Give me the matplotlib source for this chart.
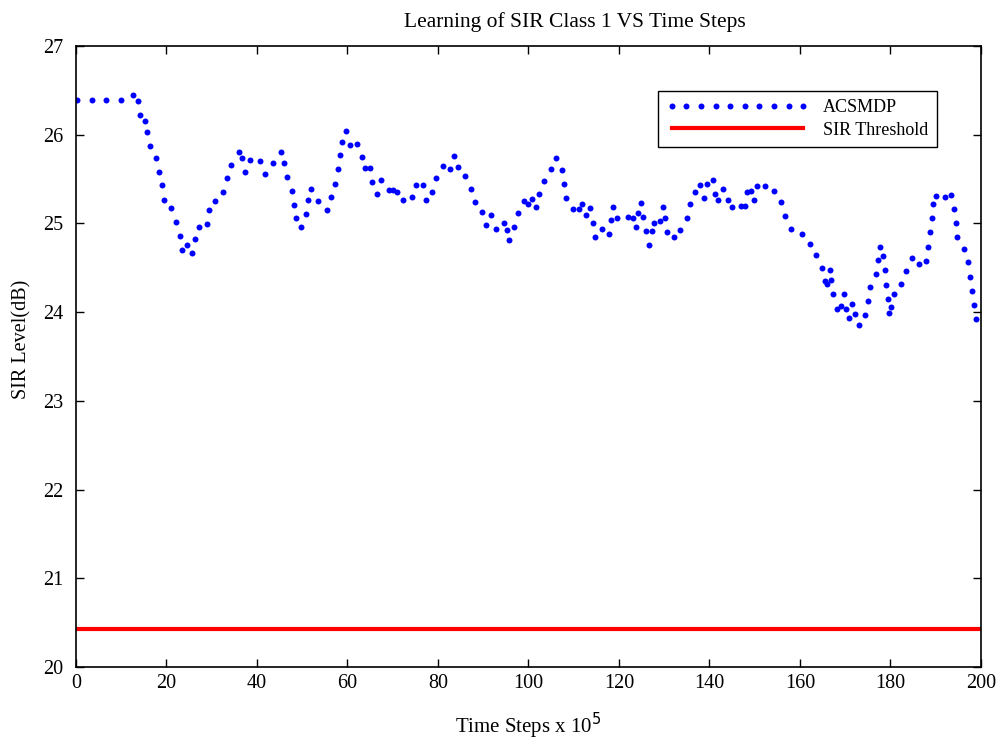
import matplotlib.pyplot as plt

plt.rcParams['font.family'] = ['Liberation Serif', 'DejaVu Serif']

# ACSMDP dots
steps = [0.3, 3.5, 6.7, 9.9, 12.5, 13.8, 14.1, 15.2, 15.8, 16.3, 17.6, 18.3, 19.0, 19.5,
         21.1, 22.2, 22.9, 23.5, 24.6, 25.7, 26.2, 27.1, 28.9, 29.3, 30.7, 32.5, 33.3,
         34.3, 36.0, 36.8, 37.4, 38.5, 40.6, 41.8, 43.5, 45.4, 46.0, 46.6, 47.7, 48.1,
         48.6, 49.8, 50.8, 51.2, 51.9, 53.5, 55.5, 56.4, 57.2, 57.8, 58.3, 58.9, 59.7,
         60.6, 62.2, 63.2, 63.8, 65.0, 65.4, 66.5, 67.5, 69.1, 70.1, 71.0, 72.2, 74.3,
         75.1, 76.6, 77.4, 78.6, 79.5, 81.2, 82.7, 83.5, 84.4, 86.0, 87.3, 88.2, 89.7,
         90.7, 91.8, 92.9, 94.5, 95.2, 95.8, 96.9, 97.6, 98.9, 100.0, 100.8, 101.7,
         102.3, 103.5, 105.0, 106.1, 107.3, 107.8, 108.4, 109.8, 111.1, 111.9, 112.7,
         113.7, 114.2, 114.6, 116.3, 117.7, 118.2, 118.6, 119.6, 121.9, 123.2, 123.8,
         124.3, 124.9, 125.4, 125.9, 126.7, 127.4, 127.7, 129.1, 129.7, 130.2, 130.6,
         132.2, 133.5, 135.0, 135.6, 136.9, 137.8, 138.7, 139.4, 140.8, 141.3, 141.9,
         143.0, 144.2, 145.0, 147.0, 147.9, 148.4, 149.2, 149.8, 150.6, 152.3, 154.2,
         155.8, 156.6, 158.0, 160.5, 162.2, 163.5, 164.9, 165.5, 166.0, 166.6, 166.9,
         167.4, 168.1, 169.0, 169.7, 170.2, 170.8, 171.6, 172.2, 173.1, 174.3, 175.0,
         175.5, 176.7, 177.2, 177.7, 178.3, 178.8, 179.1, 179.4, 179.7, 180.2, 180.8,
         182.3, 183.4, 184.7, 186.4, 187.9, 188.3, 188.7, 189.1, 189.5, 190.1, 192.0,
         193.3, 194.0, 194.4, 194.8, 196.2, 197.1, 197.6, 198.0, 198.4, 198.8]
sir = [26.39, 26.39, 26.39, 26.39, 26.45, 26.38, 26.22, 26.15, 26.03, 25.87, 25.74, 25.58,
       25.43, 25.27, 25.17, 25.02, 24.86, 24.70, 24.76, 24.67, 24.83, 24.96, 24.99, 25.15,
       25.25, 25.36, 25.51, 25.66, 25.80, 25.74, 25.58, 25.71, 25.70, 25.56, 25.68, 25.80,
       25.68, 25.52, 25.37, 25.21, 25.06, 24.96, 25.11, 25.27, 25.39, 25.25, 25.15, 25.30,
       25.45, 25.61, 25.77, 25.92, 26.04, 25.89, 25.90, 25.75, 25.63, 25.63, 25.47, 25.33,
       25.49, 25.38, 25.38, 25.36, 25.27, 25.30, 25.43, 25.43, 25.27, 25.36, 25.51, 25.65,
       25.61, 25.76, 25.64, 25.54, 25.39, 25.24, 25.13, 24.98, 25.09, 24.94, 25.01, 24.93,
       24.81, 24.96, 25.12, 25.25, 25.22, 25.28, 25.18, 25.33, 25.48, 25.61, 25.74, 25.60,
       25.45, 25.29, 25.16, 25.16, 25.22, 25.09, 25.17, 25.01, 24.85, 24.94, 24.88, 25.04,
       25.19, 25.06, 25.07, 25.06, 24.96, 25.12, 25.23, 25.07, 24.91, 24.76, 24.91, 25.00,
       25.03, 25.19, 25.06, 24.90, 24.85, 24.93, 25.06, 25.22, 25.36, 25.43, 25.29, 25.45,
       25.49, 25.33, 25.26, 25.39, 25.27, 25.18, 25.20, 25.20, 25.36, 25.37, 25.26, 25.42,
       25.42, 25.37, 25.24, 25.08, 24.94, 24.88, 24.77, 24.64, 24.50, 24.35, 24.32, 24.48,
       24.36, 24.20, 24.04, 24.07, 24.20, 24.04, 23.93, 24.09, 23.98, 23.85, 23.97, 24.13,
       24.28, 24.43, 24.59, 24.74, 24.63, 24.47, 24.31, 24.15, 23.99, 24.06, 24.21, 24.32,
       24.46, 24.61, 24.54, 24.58, 24.74, 24.90, 25.06, 25.22, 25.31, 25.30, 25.32, 25.16,
       25.01, 24.85, 24.71, 24.56, 24.40, 24.24, 24.08, 23.92]

threshold_x = [0, 200]
threshold_y = [20.43, 20.43]

fig = plt.figure(figsize=(10.01, 7.4), dpi=100)
ax = fig.add_axes([0.0759, 0.0986, 0.9041, 0.8392])

ax.plot(steps, sir, linestyle='none', marker='o', markersize=4.3, color='#0000ff',
        markeredgewidth=0, label='ACSMDP')
ax.plot(threshold_x, threshold_y, color='#ff0000', linewidth=3, label='SIR Threshold')

ax.set_xlim(0, 200)
ax.set_ylim(20, 27)
ax.set_xticks(range(0, 201, 20))
ax.set_yticks(range(20, 28))
ax.tick_params(direction='in', top=True, right=True, length=6, width=1, labelsize=14.5)
ax.tick_params(axis='y', pad=9)
ax.tick_params(axis='x', pad=5)
for s in ax.spines.values():
    s.set_linewidth(1.2)

ax.set_title('Learning of SIR Class 1 VS Time Steps', fontsize=15.5, x=0.551, pad=14)
ax.set_xlabel('Time Steps x 10$^5$', fontsize=15, labelpad=13)
ax.set_ylabel('SIR Level(dB)', fontsize=14.5)
ax.yaxis.set_label_coords(-0.049, 0.527)

leg = ax.legend(loc='upper right', bbox_to_anchor=(0.951, 0.9275), borderaxespad=0,
                numpoints=10, handlelength=7.9, fontsize=13, fancybox=False,
                framealpha=1, edgecolor='black', borderpad=0.45, labelspacing=0.3)
leg.get_frame().set_linewidth(1)

fig.savefig('out.png', dpi=100)
